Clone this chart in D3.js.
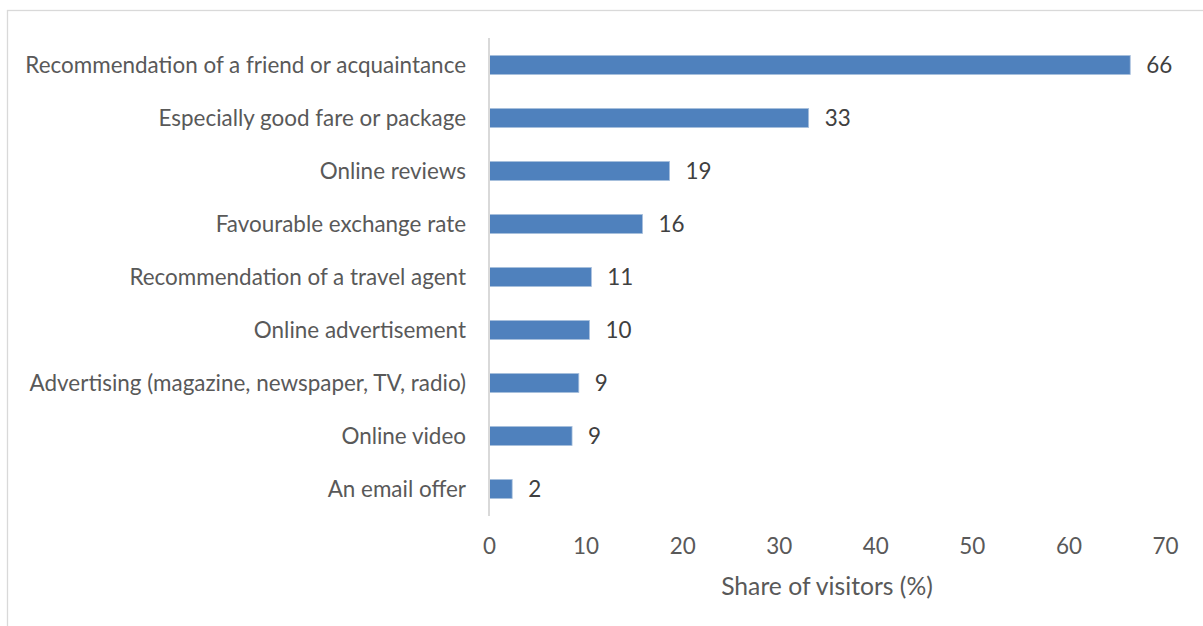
<!DOCTYPE html>
<html><head><meta charset="utf-8">
<script src="https://cdn.jsdelivr.net/npm/d3@7"></script>
<style>body{margin:0;background:#fff;} svg{display:block;}</style>
</head><body>
<svg id="chart" width="1203" height="626"></svg>
<script>
const categories = [
  "Recommendation of a friend or acquaintance",
  "Especially good fare or package",
  "Online reviews",
  "Favourable exchange rate",
  "Recommendation of a travel agent",
  "Online advertisement",
  "Advertising (magazine, newspaper, TV, radio)",
  "Online video",
  "An email offer"
];
const values = [66.4, 33.1, 18.7, 15.9, 10.6, 10.4, 9.3, 8.6, 2.4];
const xTicks = [0, 10, 20, 30, 40, 50, 60, 70];
const xTitle = "Share of visitors (%)";

const svg = d3.select("#chart");
const FONT = "Lato, 'Open Sans', sans-serif";

// outer chart border
svg.append("rect").attr("x", 7.5).attr("y", 10.5).attr("width", 1210).attr("height", 640)
  .attr("fill", "none").attr("stroke", "#d9d9d9").attr("stroke-width", 1.3);

const x = d3.scaleLinear().domain([0, 70]).range([489, 1165]);
const y = d3.scaleBand().domain(categories).range([38.5, 515.5]).paddingInner(0.64).paddingOuter(0.32);

// bars
svg.selectAll("rect.bar").data(values).join("rect").attr("class", "bar")
  .attr("x", x(0)).attr("y", (d, i) => y(categories[i]))
  .attr("width", d => x(d) - x(0)).attr("height", y.bandwidth())
  .attr("fill", "#4f81bd").attr("stroke", "#a9c0dd").attr("stroke-width", 0.8);

// y axis line
svg.append("line").attr("x1", x(0)).attr("x2", x(0)).attr("y1", 38).attr("y2", 516)
  .attr("stroke", "#d9d9d9").attr("stroke-width", 2);

// category labels
const catLabels = svg.selectAll("text.cat").data(categories).join("text").attr("class", "cat")
  .attr("x", 466).attr("y", d => y(d) + y.bandwidth() / 2)
  .attr("dy", "0.35em").attr("text-anchor", "end")
  .attr("font-family", FONT).attr("font-size", 19).attr("fill", "#595959").text(d => d);
const w = catLabels.nodes()[0].getComputedTextLength();
const fs = 19 * 441 / w;
catLabels.attr("font-size", fs);

// value labels
svg.selectAll("text.val").data(values).join("text").attr("class", "val")
  .attr("x", d => x(d) + 16).attr("y", (d, i) => y(categories[i]) + y.bandwidth() / 2)
  .attr("dy", "0.35em").attr("font-family", FONT).attr("font-size", fs).attr("fill", "#404040")
  .text(d => d3.format(".0f")(d));

// x axis
const xAxis = d3.axisBottom(x).tickValues(xTicks).tickSize(0).tickPadding(0);
const gx = svg.append("g").attr("transform", "translate(0,538)").call(xAxis);
gx.select(".domain").remove();
gx.selectAll("text").attr("font-family", FONT).attr("font-size", fs).attr("fill", "#595959").attr("dy", "0.71em");

svg.append("text").attr("x", 827).attr("y", 586).attr("dy", "0.35em").attr("text-anchor", "middle")
  .attr("font-family", FONT).attr("font-size", fs * 1.1).attr("fill", "#595959").text(xTitle);
</script>
</body></html>
